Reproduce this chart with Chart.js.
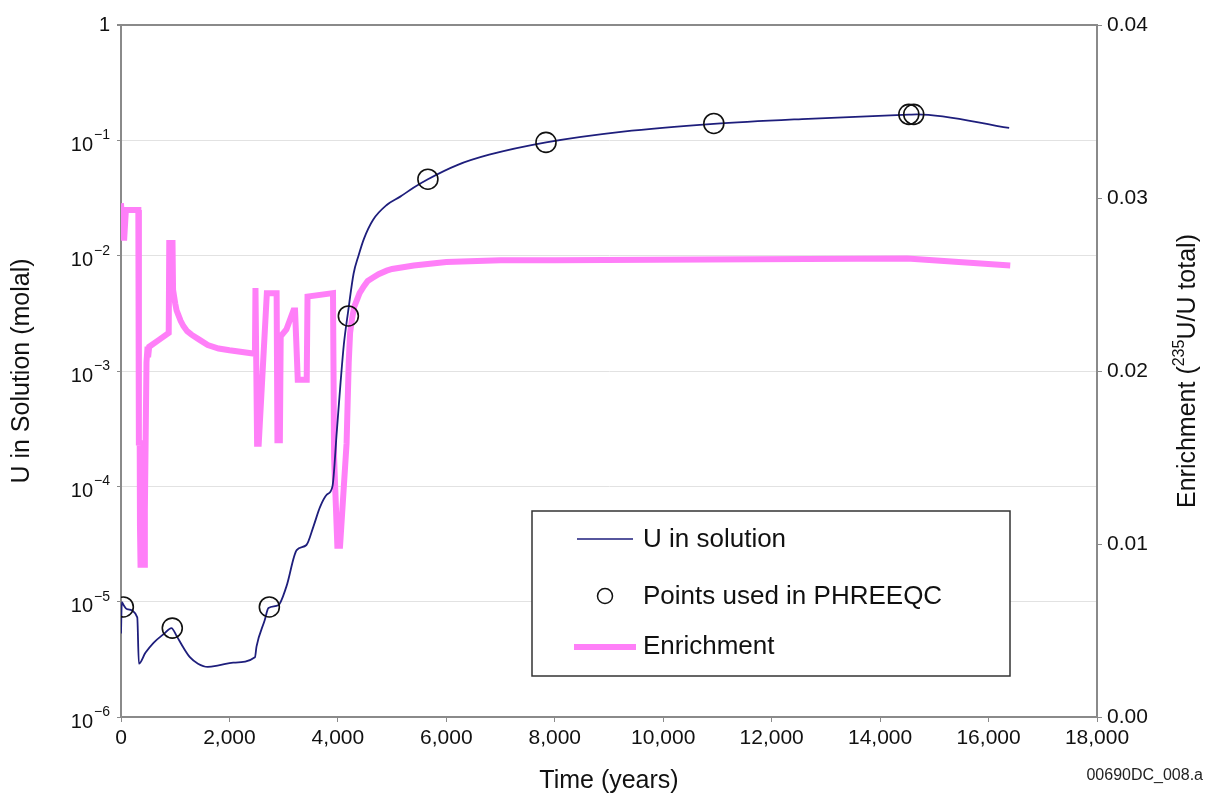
<!DOCTYPE html>
<html lang="en">
<head>
<meta charset="utf-8">
<title>U in solution and enrichment</title>
<script src="https://cdn.jsdelivr.net/npm/chart.js"></script>
<style>
  body { margin: 0; background: #fff; }
  #wrap { width: 1205px; height: 798px; }
</style>
</head>
<body>
<div id="wrap"><canvas id="myChart" width="1205" height="798"></canvas></div>
<script>
  // values
  var uYears = [0, 15, 50, 110, 300, 330, 450, 600, 800, 930, 1030, 1150, 1270, 1420, 1600, 1800, 2070, 2470, 2500, 2650, 2720, 2900, 3050, 3240, 3420, 3550, 3670, 3800, 3900, 3980, 4050, 4110, 4190, 4290, 4380, 4480, 4650, 4900, 5150, 5400, 5660, 6200, 6790, 7840, 9260, 10930, 12560, 14530, 14680, 16380];
  var uMolal = [5.3e-6, 9.9e-6, 9.3e-6, 8.6e-6, 7.3e-6, 2.9e-6, 3.6e-6, 4.4e-6, 5.3e-6, 5.9e-6, 5.0e-6, 4.0e-6, 3.3e-6, 2.9e-6, 2.72e-6, 2.8e-6, 2.96e-6, 3.3e-6, 4.1e-6, 6.9e-6, 8.8e-6, 9.3e-6, 1.35e-5, 2.8e-5, 3.1e-5, 4.5e-5, 6.6e-5, 8.5e-5, 1.0e-4, 3.0e-4, 8.0e-4, 1.7e-3, 3.3e-3, 7.0e-3, 1.0e-2, 1.4e-2, 2.05e-2, 2.75e-2, 3.25e-2, 3.9e-2, 4.6e-2, 6.1e-2, 7.5e-2, 9.6e-2, 0.119, 0.139, 0.153, 0.167, 0.168, 0.128];

  var enrYears = [0, 30, 60, 90, 320, 330, 345, 350, 360, 430, 440, 470, 490, 500, 520, 700, 880, 890, 950, 960, 980, 1000, 1025, 1050, 1100, 1150, 1220, 1300, 1450, 1600, 1800, 2000, 2470, 2480, 2510, 2540, 2690, 2870, 2885, 2930, 2945, 3050, 3180, 3210, 3260, 3425, 3440, 3910, 3930, 3990, 4040, 4160, 4200, 4225, 4260, 4300, 4350, 4400, 4480, 4550, 4650, 4750, 4900, 5000, 5200, 5400, 5700, 6000, 7000, 8000, 14500, 16400];
  var enrRatio = [0.0297, 0.0277, 0.0277, 0.0293, 0.0293, 0.0157, 0.0160, 0.0110, 0.0088, 0.0088, 0.0120, 0.0205, 0.0214, 0.0208, 0.0214, 0.0218, 0.0222, 0.0274, 0.0274, 0.0247, 0.0243, 0.0239, 0.0235, 0.0233, 0.0229, 0.0226, 0.0223, 0.0221, 0.0218, 0.0215, 0.0213, 0.0212, 0.0210, 0.0248, 0.0158, 0.0158, 0.0245, 0.0245, 0.0160, 0.0160, 0.0220, 0.0224, 0.0235, 0.0235, 0.0195, 0.0195, 0.0243, 0.0245, 0.0150, 0.0099, 0.0099, 0.0158, 0.0205, 0.0222, 0.0230, 0.0237, 0.0241, 0.0245, 0.0249, 0.0252, 0.0254, 0.0256, 0.0258, 0.0259, 0.0260, 0.0261, 0.0262, 0.0263, 0.0264, 0.0264, 0.0265, 0.0261];

  var pointYears = [43, 946, 2736, 4193, 5660, 7838, 10933, 14530, 14620];
  var pointMolal = [9.0e-6, 5.9e-6, 9.0e-6, 3.0e-3, 4.6e-2, 9.6e-2, 0.140, 0.168, 0.168];

  var yDecades = [1e-6, 1e-5, 1e-4, 1e-3, 1e-2, 1e-1, 1];
  var legendLabels = ["U in solution", "Points used in PHREEQC", "Enrichment"];

  var FONT = "'Liberation Sans', Arial, sans-serif";
  var NAVY = "#1e1e7c";
  var PINK = "#ff7ff8";
  var AXIS = "#8a8a8a";

  function pairs(xs, ys) {
    return xs.map(function (x, i) { return { x: x, y: ys[i] }; });
  }

  // labels, legend and the right-hand title with superscripts
  var extras = {
    id: "extras",
    afterDraw: function (chart) {
      var ctx = chart.ctx;
      var area = chart.chartArea;
      var y = chart.scales.y;
      ctx.save();
      ctx.fillStyle = "#111";

      // log tick labels 10^-n
      yDecades.forEach(function (v) {
        var py = y.getPixelForValue(v);
        var k = Math.round(Math.log10(v));
        var right = area.left - 11;
        if (k === 0) {
          ctx.font = "20px " + FONT;
          ctx.textAlign = "right";
          ctx.textBaseline = "middle";
          ctx.fillText("1", right, py);
          return;
        }
        var sup = "\u2212" + Math.abs(k);
        ctx.font = "14px " + FONT;
        var supW = ctx.measureText(sup).width;
        ctx.textAlign = "left";
        ctx.textBaseline = "middle";
        ctx.fillText(sup, right - supW, py - 5);
        ctx.font = "20px " + FONT;
        ctx.textAlign = "right";
        ctx.fillText("10", right - supW - 1, py + 5);
      });

      // right axis title, reading bottom to top
      var cy = (area.top + area.bottom) / 2;
      ctx.translate(1188, cy);
      ctx.rotate(-Math.PI / 2);
      var big = "25px " + FONT, small = "16px " + FONT;
      var parts = [["Enrichment (", big, 0], ["235", small, -8], ["U/U total)", big, 0]];
      var total = 0;
      parts.forEach(function (p) { ctx.font = p[1]; total += ctx.measureText(p[0]).width; });
      var x = -total / 2;
      ctx.textAlign = "left";
      ctx.textBaseline = "middle";
      parts.forEach(function (p) {
        ctx.font = p[1];
        ctx.fillText(p[0], x, p[2]);
        x += ctx.measureText(p[0]).width;
      });
      ctx.restore();

      // figure tag
      ctx.save();
      ctx.fillStyle = "#222";
      ctx.font = "16px " + FONT;
      ctx.textAlign = "right";
      ctx.textBaseline = "middle";
      ctx.fillText("00690DC_008.a", 1203, 776);
      ctx.restore();

      // legend box
      ctx.save();
      ctx.fillStyle = "#fff";
      ctx.strokeStyle = "#333";
      ctx.lineWidth = 1.5;
      ctx.fillRect(532, 511, 478, 165);
      ctx.strokeRect(532, 511, 478, 165);
      ctx.lineCap = "butt";
      ctx.strokeStyle = NAVY;
      ctx.lineWidth = 1.6;
      ctx.beginPath(); ctx.moveTo(577, 539); ctx.lineTo(633, 539); ctx.stroke();
      ctx.strokeStyle = "#111";
      ctx.lineWidth = 1.5;
      ctx.beginPath(); ctx.arc(605, 596, 7.5, 0, Math.PI * 2); ctx.stroke();
      ctx.strokeStyle = PINK;
      ctx.lineWidth = 6;
      ctx.beginPath(); ctx.moveTo(574, 647); ctx.lineTo(636, 647); ctx.stroke();
      ctx.fillStyle = "#111";
      ctx.font = "26px " + FONT;
      ctx.textAlign = "left";
      ctx.textBaseline = "middle";
      ctx.fillText(legendLabels[0], 643, 540);
      ctx.fillText(legendLabels[1], 643, 597);
      ctx.fillText(legendLabels[2], 643, 647);
      ctx.restore();
    }
  };

  new Chart("myChart", {
    type: "line",
    data: {
      datasets: [
        {
          label: legendLabels[1],
          data: pairs(pointYears, pointMolal),
          yAxisID: "y",
          showLine: false,
          pointStyle: "circle",
          pointRadius: 10,
          pointBorderWidth: 1.6,
          pointBorderColor: "#111",
          pointBackgroundColor: "rgba(0,0,0,0)"
        },
        {
          label: legendLabels[0],
          data: pairs(uYears, uMolal),
          yAxisID: "y",
          borderColor: NAVY,
          borderWidth: 1.8,
          pointRadius: 0,
          cubicInterpolationMode: "monotone"
        },
        {
          label: legendLabels[2],
          data: pairs(enrYears, enrRatio),
          yAxisID: "y2",
          borderColor: PINK,
          borderWidth: 6,
          pointRadius: 0,
          tension: 0,
          borderJoinStyle: "miter"
        }
      ]
    },
    options: {
      responsive: false,
      animation: false,
      layout: { padding: { top: 25, left: 0, right: 0, bottom: 0 } },
      plugins: { legend: { display: false }, tooltip: { enabled: false } },
      scales: {
        x: {
          type: "linear",
          min: 0,
          max: 18000,
          afterFit: function (s) { s.height = 81; },
          ticks: {
            stepSize: 2000,
            color: "#111",
            font: { family: FONT, size: 21 },
            padding: 4,
            callback: function (v) { return v.toLocaleString("en-US"); }
          },
          grid: { drawOnChartArea: false, drawTicks: true, tickLength: 5, color: AXIS },
          border: { color: AXIS, width: 2 },
          title: {
            display: true,
            text: "Time (years)",
            color: "#111",
            font: { family: FONT, size: 25 },
            padding: 2
          }
        },
        y: {
          type: "logarithmic",
          position: "left",
          min: 1e-6,
          max: 1,
          afterFit: function (s) { s.width = 121; },
          afterBuildTicks: function (s) {
            s.ticks = yDecades.map(function (v) { return { value: v }; });
          },
          ticks: { display: false },
          grid: {
            color: function (c) { return c.tick && c.tick.value === 1 ? AXIS : "#e2e2e2"; },
            lineWidth: function (c) { return c.tick && c.tick.value === 1 ? 2 : 1; },
            tickColor: AXIS,
            tickLength: 4
          },
          border: { color: AXIS, width: 2 },
          title: {
            display: true,
            text: "U in Solution (molal)",
            color: "#111",
            font: { family: FONT, size: 25 },
            padding: 7
          }
        },
        y2: {
          type: "linear",
          position: "right",
          min: 0,
          max: 0.04,
          afterFit: function (s) { s.width = 108; },
          ticks: {
            stepSize: 0.01,
            color: "#111",
            font: { family: FONT, size: 21 },
            padding: 5,
            callback: function (v) { return v.toFixed(2); }
          },
          grid: { drawOnChartArea: false, drawTicks: true, tickLength: 5, color: AXIS },
          border: { color: AXIS, width: 2 }
        }
      }
    },
    plugins: [extras]
  });
</script>
</body>
</html>
